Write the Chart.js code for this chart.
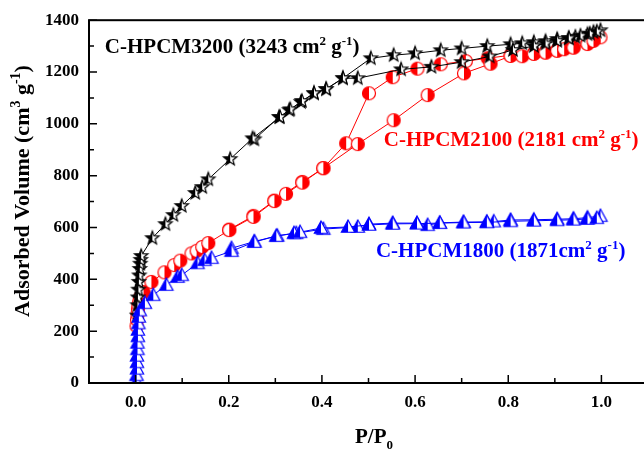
<!doctype html>
<html>
<head>
<title>N2 isotherms C-HPCM</title>
<script src="https://cdn.jsdelivr.net/npm/chart.js@4.4.1/dist/chart.umd.min.js"></script>
<style>
  body { margin: 0; overflow: hidden; background: #fff; }
</style>
</head>
<body>
<canvas id="chart" width="660" height="451"></canvas>
<script>
// tick values / labels
const xTickValues = [0, 0.2, 0.4, 0.6, 0.8, 1.0];
const xTickLabels = ['0.0', '0.2', '0.4', '0.6', '0.8', '1.0'];
const xMinor = [0.1, 0.3, 0.5, 0.7, 0.9];
const yTickValues = [0, 200, 400, 600, 800, 1000, 1200, 1400];
const yTickLabels = ['0', '200', '400', '600', '800', '1000', '1200', '1400'];
const yMinor = [100, 300, 500, 700, 900, 1100, 1300];

// C-HPCM3200 (black stars)
const blackAdsX = [0.003,0.004,0.005,0.006,0.007,0.008,0.009,0.010,0.011,0.012,0.036,0.064,0.081,0.099,0.128,0.143,0.156,0.203,0.251,0.310,0.332,0.357,0.383,0.409,0.445,0.477,0.57,0.635,0.70,0.76,0.81,0.855,0.88,0.905,0.93,0.955,0.975,0.99];
const blackAdsY = [260,300,330,360,390,415,440,460,475,490,559,613,648,683,733,756,786,864,944,1026,1056,1088,1118,1134,1176,1176,1210,1220,1238,1260,1285,1300,1310,1320,1330,1340,1348,1356];
const blackDesX = [0.998,0.983,0.97,0.944,0.93,0.905,0.88,0.855,0.83,0.805,0.755,0.70,0.655,0.60,0.554,0.505,0.445,0.409,0.383,0.355,0.33,0.308,0.255];
const blackDesY = [1361,1354,1346,1336,1331,1327,1319,1315,1311,1307,1300,1291,1284,1272,1265,1253,1176,1134,1118,1084,1053,1026,940];

// C-HPCM2100 (red circles)
const redAdsX = [0.002,0.003,0.004,0.005,0.006,0.008,0.010,0.017,0.034,0.062,0.083,0.096,0.12,0.131,0.143,0.156,0.201,0.253,0.298,0.323,0.358,0.403,0.477,0.554,0.627,0.705,0.762,0.805,0.83,0.855,0.88,0.905,0.92,0.94,0.97,0.983];
const redAdsY = [220,245,265,285,300,315,330,351,390,427,455,472,500,510,525,540,590,641,702,730,773,829,922,1014,1111,1195,1232,1262,1261,1270,1275,1282,1288,1294,1308,1320];
const redDesX = [0.998,0.97,0.94,0.905,0.88,0.855,0.805,0.756,0.709,0.655,0.605,0.552,0.501,0.452,0.403,0.358,0.298,0.253,0.201];
const redDesY = [1334,1311,1296,1284,1276,1272,1265,1253,1242,1230,1213,1180,1118,925,829,776,704,645,592];

// C-HPCM1800 (blue triangles)
const blueAdsX = [0.002,0.002,0.003,0.003,0.003,0.004,0.004,0.005,0.005,0.006,0.007,0.009,0.020,0.038,0.066,0.090,0.099,0.133,0.148,0.163,0.206,0.255,0.302,0.340,0.353,0.398,0.456,0.501,0.552,0.604,0.653,0.704,0.754,0.805,0.855,0.905,0.94,0.97,0.99];
const blueAdsY = [5,30,55,80,105,130,155,180,205,230,255,280,308,339,378,409,416,462,474,482,509,544,567,578,582,598,602,610,614,615,617,619,620,624,626,628,630,633,636];
const blueDesX = [0.998,0.97,0.94,0.905,0.855,0.805,0.769,0.754,0.704,0.653,0.627,0.604,0.552,0.501,0.477,0.403,0.345,0.304,0.255,0.206];
const blueDesY = [644,638,634,632,630,629,623,622,621,618,609,617,617,613,602,594,578,568,546,520];

// annotation labels: [text parts, x, y (data units), colour]
const labels = [
  [[['C-HPCM3200 (3243 cm', 'n'], ['2', 'sup'], [' g', 'n'], ['-1', 'sup'], [')', 'n']], -0.066, 1273, '#000000'],
  [[['C-HPCM2100 (2181 cm', 'n'], ['2', 'sup'], [' g', 'n'], ['-1', 'sup'], [')', 'n']], 0.533, 914, '#ff0000'],
  [[['C-HPCM1800 (1871cm', 'n'], ['2', 'sup'], [' g', 'n'], ['-1', 'sup'], [')', 'n']], 0.516, 486, '#0000ff']
];

const FONT = '"Liberation Serif", "Times New Roman", serif';

function pts(xs, ys) {
  return xs.map((x, i) => ({x: x, y: ys[i]}));
}

// half filled marker pictures
function marker(shape, color, side) {
  const r = 7;
  const c = document.createElement('canvas');
  c.width = c.height = 2 * r + 4;
  const g = c.getContext('2d');
  g.translate(r + 2, r + 2);
  function path() {
    g.beginPath();
    if (shape == 'star') {
      for (let i = 0; i < 10; i++) {
        const rr = i % 2 ? r * 0.42 : r;
        const a = -Math.PI / 2 + i * Math.PI / 5;
        g.lineTo(rr * Math.cos(a), rr * Math.sin(a));
      }
    } else if (shape == 'tri') {
      g.moveTo(0, -r);
      g.lineTo(r * 0.95, r * 0.75);
      g.lineTo(-r * 0.95, r * 0.75);
    } else {
      g.arc(0, 0, r - 0.5, 0, Math.PI * 2);
    }
    g.closePath();
  }
  path();
  g.fillStyle = '#fff';
  g.fill();
  g.save();
  g.beginPath();
  if (side == 'left') g.rect(-r - 2, -r - 2, r + 2, 2 * r + 4);
  else g.rect(0, -r - 2, r + 2, 2 * r + 4);
  g.clip();
  path();
  g.fillStyle = color;
  g.fill();
  g.restore();
  path();
  g.strokeStyle = color;
  g.lineWidth = 1.2;
  g.stroke();
  return c;
}

function drawRich(ctx, parts, x, y, size, color) {
  ctx.fillStyle = color;
  ctx.textBaseline = 'alphabetic';
  ctx.textAlign = 'left';
  parts.forEach(p => {
    const small = p[1] != 'n';
    const s = small ? Math.round(size * 0.62) : size;
    ctx.font = 'bold ' + s + 'px ' + FONT;
    const dy = p[1] == 'sup' ? -size * 0.4 : (p[1] == 'sub' ? size * 0.3 : 0);
    ctx.fillText(p[0], x, y + dy);
    x += ctx.measureText(p[0]).width;
  });
}

function richWidth(ctx, parts, size) {
  let w = 0;
  parts.forEach(p => {
    const s = p[1] != 'n' ? Math.round(size * 0.62) : size;
    ctx.font = 'bold ' + s + 'px ' + FONT;
    w += ctx.measureText(p[0]).width;
  });
  return w;
}

const extras = {
  id: 'extras',
  afterDraw(chart) {
    const ctx = chart.ctx;
    const a = chart.chartArea;
    const xs = chart.scales.x, ys = chart.scales.y;
    ctx.save();
    ctx.strokeStyle = '#000';
    ctx.lineWidth = 2;
    ctx.strokeRect(a.left, a.top, a.right - a.left, a.bottom - a.top);
    // inward ticks
    ctx.lineWidth = 1.5;
    ctx.beginPath();
    xTickValues.forEach(v => { const p = xs.getPixelForValue(v); ctx.moveTo(p, a.bottom); ctx.lineTo(p, a.bottom - 8); });
    xMinor.forEach(v => { const p = xs.getPixelForValue(v); ctx.moveTo(p, a.bottom); ctx.lineTo(p, a.bottom - 5); });
    yTickValues.forEach(v => { const p = ys.getPixelForValue(v); ctx.moveTo(a.left, p); ctx.lineTo(a.left + 8, p); });
    yMinor.forEach(v => { const p = ys.getPixelForValue(v); ctx.moveTo(a.left, p); ctx.lineTo(a.left + 5, p); });
    ctx.stroke();

    labels.forEach(l => {
      drawRich(ctx, l[0], xs.getPixelForValue(l[1]), ys.getPixelForValue(l[2]), 21, l[3]);
    });

    // axis titles
    const xt = [['P/P', 'n'], ['0', 'sub']];
    const xw = richWidth(ctx, xt, 21);
    drawRich(ctx, xt, 374 - xw / 2, 443, 21, '#000');

    const yt = [['Adsorbed Volume (cm', 'n'], ['3', 'sup'], [' g', 'n'], ['-1', 'sup'], [')', 'n']];
    const yw = richWidth(ctx, yt, 22);
    ctx.translate(29, 191);
    ctx.rotate(-Math.PI / 2);
    drawRich(ctx, yt, -yw / 2, 0, 22, '#000');
    ctx.restore();
  }
};

const ctx = document.getElementById('chart');

const myChart = new Chart(ctx, {
  type: 'scatter',
  data: {
    datasets: [{
      data: pts(blueAdsX, blueAdsY),
      borderColor: '#0000ff',
      pointStyle: marker('tri', '#0000ff', 'left')
    }, {
      data: pts(blueDesX, blueDesY),
      borderColor: '#0000ff',
      pointStyle: marker('tri', '#0000ff', 'left')
    }, {
      data: pts(blackAdsX, blackAdsY),
      borderColor: '#000000',
      pointStyle: marker('star', '#000000', 'left')
    }, {
      data: pts(blackDesX, blackDesY),
      borderColor: '#000000',
      pointStyle: marker('star', '#000000', 'left')
    }, {
      data: pts(redAdsX, redAdsY),
      borderColor: '#ff0000',
      pointStyle: marker('circle', '#ff0000', 'right')
    }, {
      data: pts(redDesX, redDesY),
      borderColor: '#ff0000',
      pointStyle: marker('circle', '#ff0000', 'left')
    }]
  },
  options: {
    responsive: false,
    animation: false,
    layout: { padding: { top: 20, right: 12, left: 0, bottom: 0 } },
    datasets: {
      scatter: { showLine: true, borderWidth: 1, pointRadius: 7 }
    },
    plugins: {
      legend: { display: false },
      tooltip: { enabled: false }
    },
    scales: {
      x: {
        type: 'linear',
        min: -0.1,
        max: 1.1,
        afterBuildTicks: s => { s.ticks = xTickValues.map(v => ({value: v})); },
        afterFit: s => { s.height = 68; },
        ticks: {
          callback: (v) => xTickLabels[xTickValues.indexOf(v)],
          color: '#000',
          padding: 9,
          maxRotation: 0,
          font: { family: FONT, size: 17, weight: 'bold' }
        },
        grid: { display: false, drawTicks: false },
        border: { display: false }
      },
      y: {
        min: 0,
        max: 1400,
        afterBuildTicks: s => { s.ticks = yTickValues.map(v => ({value: v})); },
        afterFit: s => { s.width = 89; },
        ticks: {
          callback: (v) => yTickLabels[yTickValues.indexOf(v)],
          color: '#000',
          padding: 10,
          font: { family: FONT, size: 17, weight: 'bold' }
        },
        grid: { display: false, drawTicks: false },
        border: { display: false }
      }
    }
  },
  plugins: [extras]
});
</script>
</body>
</html>
